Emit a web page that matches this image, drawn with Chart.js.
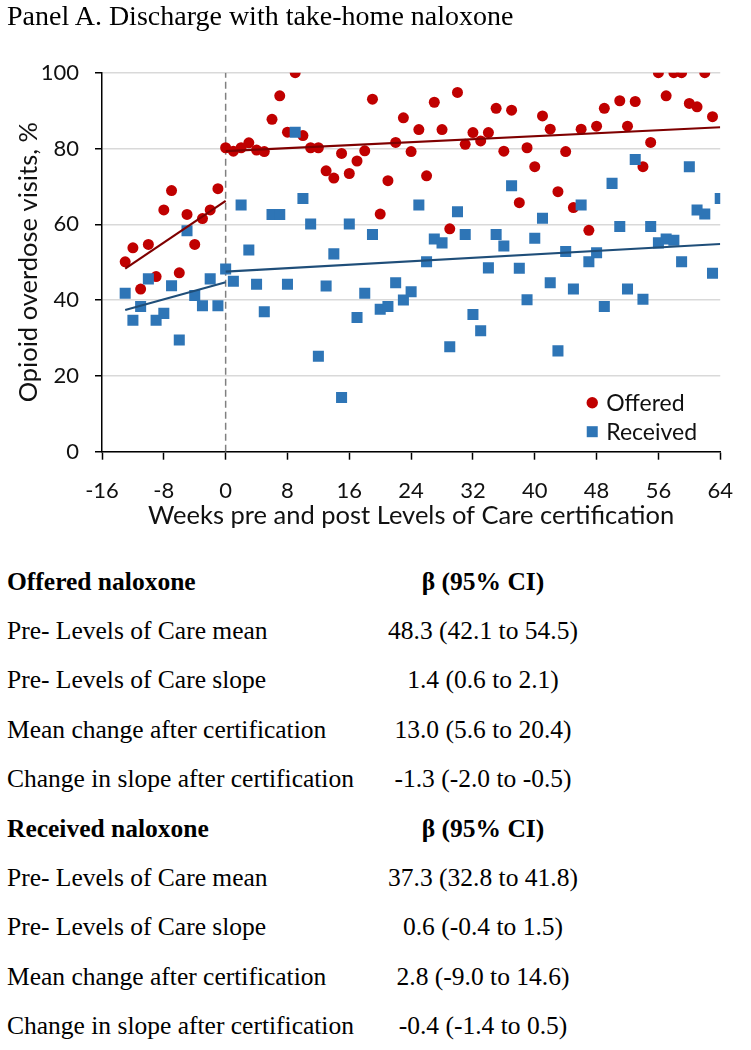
<!DOCTYPE html>
<html><head><meta charset="utf-8">
<script src="https://cdn.jsdelivr.net/npm/chart.js@4.4.1/dist/chart.umd.min.js"></script>
<style>
html,body{margin:0;padding:0;background:#fff;}
body{width:751px;height:1050px;position:relative;overflow:hidden;font-family:"Liberation Serif","Times New Roman",serif;color:#000;}
#title{position:absolute;left:7px;top:1.5px;font-size:28px;line-height:28px;white-space:nowrap;z-index:2;}
#chartBox{position:absolute;left:0;top:0;width:751px;height:540px;}
.row{position:absolute;font-size:25.5px;line-height:25.5px;white-space:nowrap;}
.lab{left:7px;}
.val{left:233px;width:500px;text-align:center;}
.b{font-weight:bold;}
</style></head><body>
<div id="title">Panel A. Discharge with take-home naloxone</div>
<div id="chartBox"><canvas id="c" width="751" height="540"></canvas></div>
<div id="table"></div>
<script>
// ---- data ----
const weeks = [-13,-12,-11,-10,-9,-8,-7,-6,-5,-4,-3,-2,-1,0,1,2,3,4,5,6,7,8,9,10,11,12,13,14,15,16,17,18,19,20,21,22,23,24,25,26,27,28,29,30,31,32,33,34,35,36,37,38,39,40,41,42,43,44,45,46,47,48,49,50,51,52,53,54,55,56,57,58,59,60,61,62,63,64];
const offered = [50.1,53.8,42.9,54.7,46.2,63.8,68.9,47.2,62.6,54.7,61.5,63.8,69.4,
  80.2,79.3,80.2,81.5,79.6,79.2,87.7,93.9,84.3,100,83.4,80.2,80.2,74.1,72.2,78.7,73.4,76.7,79.4,93.0,
  62.7,71.5,81.6,88.1,79.2,85.0,72.8,92.2,85.0,58.8,94.8,81.1,84.2,82.0,84.2,90.6,79.3,90.1,65.7,80.2,
  75.2,88.6,85.1,68.6,79.2,64.4,85.1,58.4,85.9,90.6,null,92.6,85.9,92.4,75.2,81.6,100,93.9,100,100,91.9,91.0,100,88.4,null];
const received = [41.8,34.7,38.3,45.6,34.7,36.5,43.8,29.5,58.3,41.2,38.5,45.6,38.5,
  48.2,45.0,65.1,53.2,44.2,36.9,62.6,62.6,44.2,84.3,66.8,60.1,25.2,43.7,52.2,14.3,60.1,35.4,41.8,57.3,
  37.6,38.3,44.6,40.0,42.2,65.1,50.1,56.1,55.1,27.7,63.3,57.3,36.2,31.9,48.5,57.3,54.3,70.2,48.4,40.1,
  56.3,61.6,44.6,26.6,52.8,42.9,65.1,50.1,52.5,38.3,70.8,59.4,42.9,77.1,40.2,59.4,55.1,56.1,55.8,50.1,75.2,63.8,62.7,47.1,66.8];
// fitted segments (start week, end week) and values
const preWeeks = [-13, 0];
const postWeeks = [0, 64];
const offeredPreFit = [48.3, 66.2];
const offeredPostFit = [79.3, 85.6];
const receivedPreFit = [37.4, 44.7];
const receivedPostFit = [47.5, 54.8];
const certLine = [0, 100];
const xTicks = [-16, 64, 8];   // min, max, step
const yTicks = [0, 100, 20];

const tableLabels = ["Offered naloxone","Pre- Levels of Care mean","Pre- Levels of Care slope","Mean change after certification","Change in slope after certification",
  "Received naloxone","Pre- Levels of Care mean","Pre- Levels of Care slope","Mean change after certification","Change in slope after certification"];
const tableValues = ["β (95% CI)","48.3 (42.1 to 54.5)","1.4 (0.6 to 2.1)","13.0 (5.6 to 20.4)","-1.3 (-2.0 to -0.5)",
  "β (95% CI)","37.3 (32.8 to 41.8)","0.6 (-0.4 to 1.5)","2.8 (-9.0 to 14.6)","-0.4 (-1.4 to 0.5)"];
const tableBold = [true,false,false,false,false,true,false,false,false,false];

// ---- table ----
const tbl = document.getElementById('table');
tableLabels.forEach((t, i) => {
  const top = 590 + 49.4 * i - 21.4;
  const a = document.createElement('div');
  a.className = 'row lab' + (tableBold[i] ? ' b' : '');
  a.style.top = top + 'px'; a.textContent = t; tbl.appendChild(a);
  const v = document.createElement('div');
  v.className = 'row val' + (tableBold[i] ? ' b' : '');
  v.style.top = top + 'px'; v.textContent = tableValues[i]; tbl.appendChild(v);
});

// ---- chart ----
const pts = (xs, ys) => xs.map((x, i) => ({x: x, y: ys[i]})).filter(p => p.y !== null);
const RED = '#C00000', BLUE = '#2E75B6';

const legendPlugin = {
  id: 'insideLegend',
  afterDatasetsDraw(chart) {
    const ctx = chart.ctx, ca = chart.chartArea;
    const items = chart.data.datasets.filter(d => d.legendIndex !== undefined)
      .sort((a, b) => a.legendIndex - b.legendIndex);
    ctx.save();
    ctx.font = '23px Lato';
    ctx.textBaseline = 'middle';
    items.forEach((d, i) => {
      const cx = ca.right - 128, cy = ca.bottom - 49 + i * 29;
      ctx.fillStyle = d.backgroundColor;
      if (d.pointStyle === 'rect') ctx.fillRect(cx - 5.5, cy - 5.5, 11, 11);
      else { ctx.beginPath(); ctx.arc(cx, cy, 5.7, 0, Math.PI * 2); ctx.fill(); }
      ctx.fillStyle = '#111';
      ctx.fillText(d.label, cx + 14, cy + 1);
    });
    ctx.restore();
  }
};

const lineDs = (data, color, order) => ({
  data: data, showLine: true, borderColor: color, borderWidth: 2.2, pointRadius: 0, order: order, fill: false
});

new Chart(document.getElementById('c'), {
  type: 'scatter',
  data: {
    datasets: [
      lineDs(pts(preWeeks, offeredPreFit), '#7F0000', 0),
      lineDs(pts(postWeeks, offeredPostFit), '#7F0000', 0),
      lineDs(pts(preWeeks, receivedPreFit), '#1F4E79', 0),
      lineDs(pts(postWeeks, receivedPostFit), '#1F4E79', 0),
      { label: 'Received', legendIndex: 1, data: pts(weeks, received), pointStyle: 'rect', pointRadius: 7.8,
        backgroundColor: BLUE, borderColor: BLUE, borderWidth: 0, order: 1 },
      { label: 'Offered', legendIndex: 0, data: pts(weeks, offered), pointStyle: 'circle', pointRadius: 5.5,
        backgroundColor: RED, borderColor: RED, borderWidth: 0, order: 2 },
      { data: pts([0, 0], certLine), showLine: true, borderColor: '#808080', borderWidth: 1.5,
        borderDash: [7, 4], pointRadius: 0, order: 3 }
    ]
  },
  options: {
    responsive: false, animation: false, maintainAspectRatio: false,
    layout: { padding: { left: 0, right: 19, top: 72.7, bottom: 0 } },
    plugins: { legend: { display: false }, tooltip: { enabled: false }, title: { display: false } },
    scales: {
      x: {
        type: 'linear', min: xTicks[0], max: xTicks[1],
        ticks: { stepSize: xTicks[2], padding: 18, color: '#111', font: { family: 'Lato', size: 22 }, maxRotation: 0, autoSkip: false },
        grid: { drawOnChartArea: false, drawTicks: true, tickLength: 8, tickColor: '#000', tickWidth: 1.5 },
        border: { color: '#000', width: 1.5 },
        title: { display: true, text: 'Weeks pre and post Levels of Care certification', color: '#111',
          font: { family: 'Lato', size: 25.5 }, padding: { top: 0, bottom: 9 } },
        afterFit: (s) => { s.height = 540 - 451.7; }
      },
      y: {
        min: yTicks[0], max: yTicks[1],
        ticks: { stepSize: yTicks[2], padding: 16, color: '#111', font: { family: 'Lato', size: 22 } },
        grid: { color: '#D9D9D9', lineWidth: 1.5, drawTicks: true, tickLength: 7, tickColor: '#000', tickWidth: 1.5 },
        border: { color: '#000', width: 1.5 },
        title: { display: true, text: 'Opioid overdose visits, %', color: '#111',
          font: { family: 'Lato', size: 25.5 }, padding: { top: 13, bottom: 0 } },
        afterFit: (s) => { s.width = 102; }
      }
    }
  },
  plugins: [legendPlugin]
});
</script>
</body></html>
